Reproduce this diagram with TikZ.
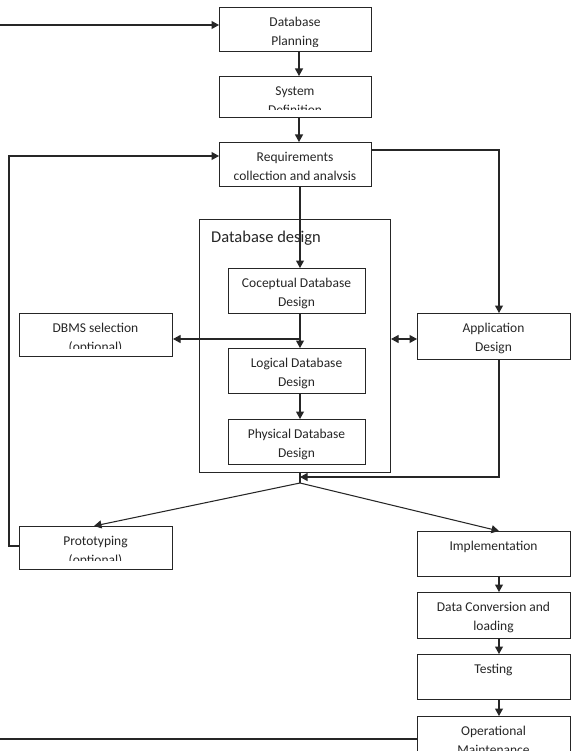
\documentclass[tikz,border=0pt]{standalone}
\usepackage{fontspec}
\setmainfont{Carlito}
\usetikzlibrary{arrows.meta}
\tikzset{
  box/.style={draw=black!85,line width=1.05pt,inner sep=0pt,fill=white},
  txt/.style={inner sep=0pt,font=\fontsize{13.5}{19}\selectfont,text=black!85},
  conn/.style={draw=black!85,line width=1.05pt},
  arr/.style={conn,-{Triangle[length=7.5pt,width=8pt]}},
  darr/.style={conn,{Triangle[length=7.5pt,width=8pt]}-{Triangle[length=7.5pt,width=8pt]}}
}
% name, x1, y1, x2, y2, clip inset, line1, line2
\newcommand\mybox[8]{%
  \pgfmathsetmacro\bw{#4-#2}\pgfmathsetmacro\bh{#5-#3}\pgfmathsetmacro\bcx{(#2+#4)/2}%
  \node[box,minimum width=\bw pt,minimum height=\bh pt,anchor=north west] (#1) at (#2,#3) {};
  \begin{scope}
    \clip (#2,#3) rectangle (#4,#5-#6);
    \node[txt,anchor=base] (#1-a) at (\bcx,#3+19.5) {#7};
    \node[txt,anchor=base] (#1-b) at (\bcx,#3+38.5) {#8};
  \end{scope}
}
\begin{document}
\begin{tikzpicture}[x=1pt,y=-1pt]
\clip (0,0) rectangle (571,751);
\fill[white] (0,0) rectangle (571,751);

% Database design container
\node[box,minimum width=191pt,minimum height=253pt,anchor=north west] (dbd) at (199,219) {};
\node[inner sep=0pt,anchor=base west,font=\fontsize{16.5}{20}\selectfont,text=black!85] (dbdl) at (211,242) {Database design};

\mybox{plan}{219}{7}{371}{51}{4}{Database}{Planning}
\mybox{sys}{219}{76}{371}{117}{7}{System}{Definition}
\mybox{req}{219}{142}{371}{186}{6.5}{Requirements}{collection and analysis}
\mybox{con}{228}{268}{365}{313}{0}{Coceptual Database}{Design}
\mybox{log}{228}{348}{365}{393}{0}{Logical Database}{Design}
\mybox{phy}{228}{419}{365}{464}{0}{Physical Database}{Design}
\mybox{dbms}{19}{313}{172}{356}{8}{DBMS selection}{(optional)}
\mybox{app}{417}{313}{570}{359}{0}{Application}{Design}
\mybox{proto}{19}{526}{172}{569}{9}{Prototyping}{(optional)}
\mybox{impl}{417}{531}{570}{576}{0}{Implementation}{}
\mybox{conv}{417}{592}{570}{638}{0}{Data Conversion and}{loading}
\mybox{test}{417}{654}{570}{699}{0}{Testing}{}
\mybox{oper}{417}{716}{570}{770}{0}{Operational}{Maintenance}

\coordinate (in) at (0,25);
\coordinate (out) at (0,739);
\coordinate (j) at (300,483);

\draw[arr] (in) -- (plan.west |- in);
\draw[arr] (plan.south -| 299,0) -- (sys.north -| 299,0);
\draw[arr] (sys.south -| 299,0) -- (req.north -| 299,0);
\draw[arr] (req.south -| 300,0) -- (con.north -| 300,0);
\draw[arr] (con.south -| 300,0) -- (log.north -| 300,0);
\draw[arr] (300,339) -- (dbms.east |- 0,339);
\draw[arr] (log.south -| 300,0) -- (phy.north -| 300,0);
\draw[darr] (dbd.east |- 0,339) -- (app.west |- 0,339);
\draw[arr] (req.east |- 0,150) -| (app.north -| 499,0);
\draw[arr] (app.south -| 499,0) |- (300,477);
\draw[conn] (dbd.south -| j) -- (j);
\draw[arr] (j) -- (proto.north -| 94,0);
\draw[arr] (j) -- (impl.north -| 499,0);
\draw[arr] (impl.south -| 499,0) -- (conv.north -| 499,0);
\draw[arr] (conv.south -| 499,0) -- (test.north -| 499,0);
\draw[arr] (test.south -| 499,0) -- (oper.north -| 499,0);
\draw[conn] (oper.west |- out) -- (out);
\draw[arr] (proto.west |- 0,546) -- (9,546) -- (9,156) -- (req.west |- 0,156);
\end{tikzpicture}
\end{document}
